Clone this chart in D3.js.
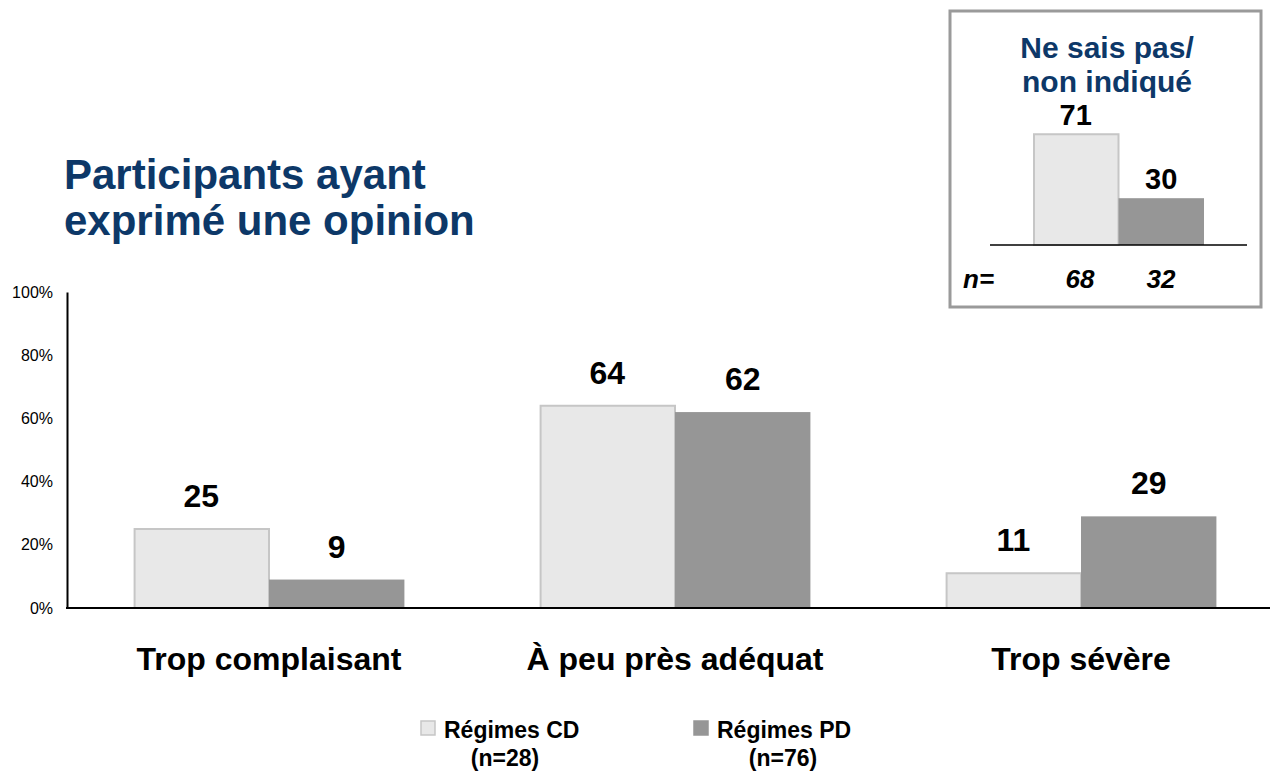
<!DOCTYPE html>
<html>
<head>
<meta charset="utf-8">
<script src="https://cdn.jsdelivr.net/npm/d3@7"></script>
<style>
  body { margin: 0; background: #fff; }
  svg { font-family: "Liberation Sans", Arial, sans-serif; }
</style>
</head>
<body>
<svg id="chart" width="1270" height="772"></svg>
<script>
// data
var categories = ["Trop complaisant", "À peu près adéquat", "Trop sévère"];
var seriesNames = ["Régimes CD", "Régimes PD"];
var seriesN = ["(n=28)", "(n=76)"];
var cdValues = [25, 64, 11];
var pdValues = [9, 62, 29];
var yTicks = [0, 20, 40, 60, 80, 100];

// inset "ne sais pas"
var insetValues = [71, 30];
var insetN = ["68", "32"];

var navy = "#0d3868";
var fills = ["#e8e8e8", "#969696"];
var strokes = ["#c6c6c6", "#969696"];
var font = "Liberation Sans, Arial, sans-serif";

var svg = d3.select("#chart");

// title
svg.append("text")
  .attr("x", 64).attr("y", 189)
  .attr("fill", navy).attr("font-size", 42).attr("font-weight", "bold")
  .selectAll("tspan")
  .data(["Participants ayant", "exprimé une opinion"])
  .join("tspan")
  .attr("x", 64)
  .attr("dy", function(d, i) { return i ? 46 : 0; })
  .text(function(d) { return d; });

// main chart
var x0 = d3.scaleBand().domain(categories).range([66, 1284]).paddingInner(0.333).paddingOuter(0.1665);
var x1 = d3.scaleBand().domain(seriesNames).range([0, x0.bandwidth()]);
var y = d3.scaleLinear().domain([0, 100]).range([608, 292]);

var rows = categories.map(function(c, i) {
  return { cat: c, vals: [cdValues[i], pdValues[i]] };
});

var g = svg.append("g");

var groups = g.selectAll("g.grp").data(rows).join("g")
  .attr("class", "grp")
  .attr("transform", function(d) { return "translate(" + x0(d.cat) + ",0)"; });

groups.selectAll("rect").data(function(d) { return d.vals; }).join("rect")
  .attr("x", function(d, i) { return x1(seriesNames[i]) + (i === 0 ? 1 : 0); })
  .attr("y", function(d) { return y(d); })
  .attr("width", function(d, i) { return x1.bandwidth() - (i === 0 ? 1 : 0); })
  .attr("height", function(d) { return y(0) - y(d); })
  .attr("fill", function(d, i) { return fills[i]; })
  .attr("stroke", function(d, i) { return strokes[i]; })
  .attr("stroke-width", function(d, i) { return i === 0 ? 2 : 0; });

groups.selectAll("text.val").data(function(d) { return d.vals; }).join("text")
  .attr("class", "val")
  .attr("x", function(d, i) { return x1(seriesNames[i]) + x1.bandwidth() / 2; })
  .attr("y", function(d) { return y(d) - 22; })
  .attr("text-anchor", "middle")
  .attr("font-size", 32).attr("font-weight", "bold")
  .text(function(d) { return d; });

// y axis
var yAxis = d3.axisLeft(y).tickValues(yTicks).tickSize(0).tickPadding(14)
  .tickFormat(function(d) { return d + "%"; });
var ya = svg.append("g").attr("transform", "translate(67,0)").call(yAxis)
  .attr("font-size", 16).attr("font-family", font);
ya.select(".domain").attr("stroke", "#000").attr("stroke-width", 2);
ya.selectAll("text").attr("fill", "#000");

// baseline
svg.append("line")
  .attr("x1", 66).attr("x2", 1270)
  .attr("y1", y(0)).attr("y2", y(0))
  .attr("stroke", "#000").attr("stroke-width", 2);

// category labels
var xAxis = d3.axisBottom(x0).tickSize(0).tickPadding(0);
var xa = svg.append("g").attr("transform", "translate(0,670)").call(xAxis)
  .attr("font-size", 32).attr("font-weight", "bold").attr("font-family", font);
xa.select(".domain").remove();
xa.selectAll("text").attr("fill", "#000").attr("dy", 0);

// legend
var legX = [420, 693];
var legNx = [85, 90];
var leg = svg.selectAll("g.leg").data(seriesNames).join("g")
  .attr("class", "leg")
  .attr("transform", function(d, i) { return "translate(" + legX[i] + ",720)"; });
leg.append("rect")
  .attr("x", 1).attr("y", 1).attr("width", 14).attr("height", 14)
  .attr("fill", function(d, i) { return fills[i]; })
  .attr("stroke", function(d, i) { return strokes[i]; })
  .attr("stroke-width", 1.5);
leg.append("text")
  .attr("x", 24).attr("y", 18)
  .attr("font-size", 23).attr("font-weight", "bold")
  .text(function(d) { return d; });
leg.append("text")
  .attr("x", function(d, i) { return legNx[i]; }).attr("y", 46)
  .attr("text-anchor", "middle")
  .attr("font-size", 23).attr("font-weight", "bold")
  .text(function(d, i) { return seriesN[i]; });

// inset box
var inset = svg.append("g");
inset.append("rect")
  .attr("x", 950).attr("y", 11).attr("width", 311).attr("height", 296)
  .attr("fill", "#fff").attr("stroke", "#9a9a9a").attr("stroke-width", 3);

inset.append("text")
  .attr("text-anchor", "middle")
  .attr("fill", navy).attr("font-size", 30).attr("font-weight", "bold")
  .selectAll("tspan").data(["Ne sais pas/", "non indiqué"]).join("tspan")
  .attr("x", 1107)
  .attr("y", function(d, i) { return 58 + i * 34; })
  .text(function(d) { return d; });

var ix = d3.scaleBand().domain(seriesNames).range([1033, 1204]);
var iy = d3.scaleLinear().domain([0, 100]).range([245, 89]);

inset.selectAll("rect.ib").data(insetValues).join("rect")
  .attr("class", "ib")
  .attr("x", function(d, i) { return ix(seriesNames[i]) + (i === 0 ? 1 : 0); })
  .attr("y", function(d) { return iy(d); })
  .attr("width", function(d, i) { return ix.bandwidth() - (i === 0 ? 1 : 0); })
  .attr("height", function(d) { return iy(0) - iy(d); })
  .attr("fill", function(d, i) { return fills[i]; })
  .attr("stroke", function(d, i) { return strokes[i]; })
  .attr("stroke-width", function(d, i) { return i === 0 ? 2 : 0; });

inset.selectAll("text.iv").data(insetValues).join("text")
  .attr("class", "iv")
  .attr("x", function(d, i) { return ix(seriesNames[i]) + ix.bandwidth() / 2; })
  .attr("y", function(d) { return iy(d) - 9; })
  .attr("text-anchor", "middle")
  .attr("font-size", 29).attr("font-weight", "bold")
  .text(function(d) { return d; });

inset.append("line")
  .attr("x1", 990).attr("x2", 1247).attr("y1", 245).attr("y2", 245)
  .attr("stroke", "#000").attr("stroke-width", 1.5);

inset.append("text")
  .attr("x", 963).attr("y", 288)
  .attr("font-size", 26).attr("font-weight", "bold").attr("font-style", "italic")
  .text("n=");
inset.selectAll("text.in").data(insetN).join("text")
  .attr("class", "in")
  .attr("x", function(d, i) { return i === 0 ? 1080 : 1161; })
  .attr("y", 288)
  .attr("text-anchor", "middle")
  .attr("font-size", 26).attr("font-weight", "bold").attr("font-style", "italic")
  .text(function(d) { return d; });
</script>
</body>
</html>
